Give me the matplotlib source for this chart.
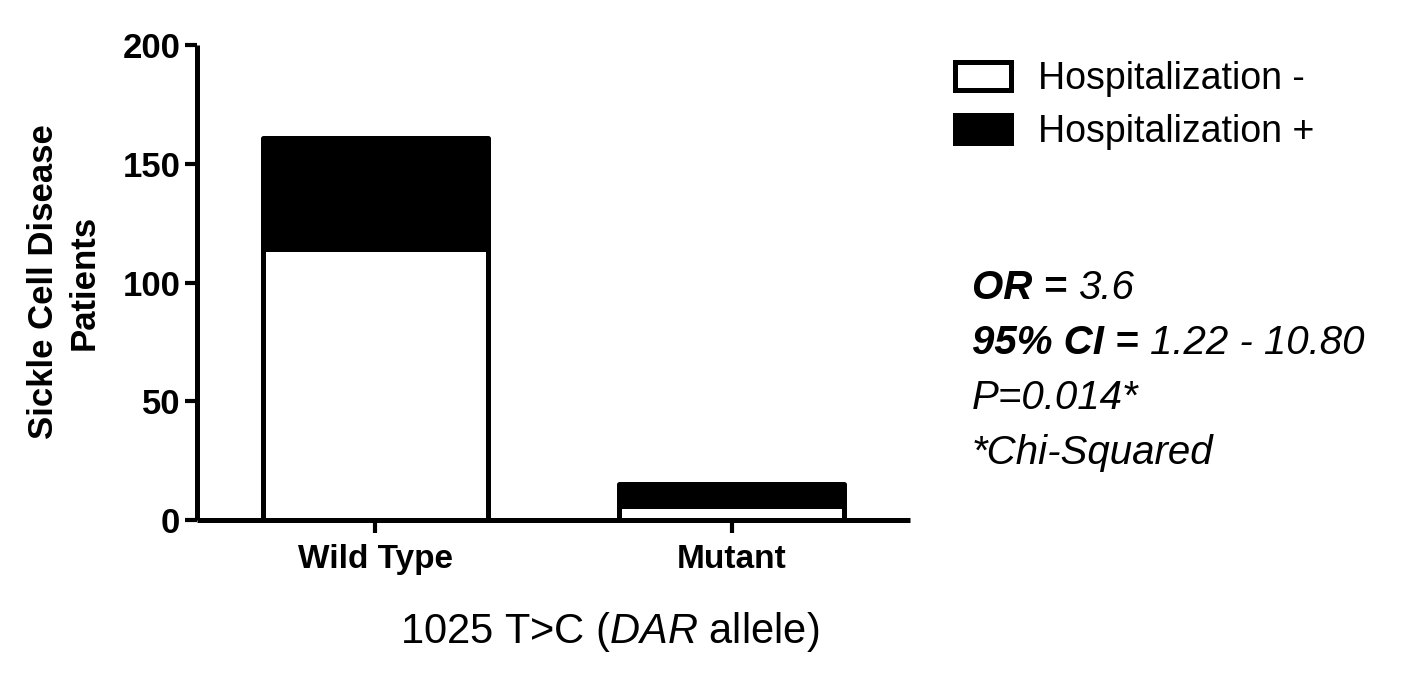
import matplotlib
matplotlib.use("Agg")
import matplotlib.pyplot as plt
import numpy as np
from matplotlib.patches import Patch

plt.rcParams["font.family"] = ["Liberation Sans", "DejaVu Sans"]
plt.rcParams["mathtext.fontset"] = "custom"
plt.rcParams["mathtext.rm"] = "Liberation Sans"
plt.rcParams["mathtext.it"] = "Liberation Sans:italic"

genotypes = ["Wild Type", "Mutant"]
hosp_neg = [114, 6]
hosp_pos = [47, 9]
series_labels = ["Hospitalization -", "Hospitalization +"]
stats_lines = [
    ("OR = ", "3.6"),
    ("95% CI = ", "1.22 - 10.80"),
    ("", "P=0.014*"),
    ("", "*Chi-Squared"),
]

fig = plt.figure(figsize=(14.17, 6.78), dpi=100)
ax = fig.add_axes([197 / 1417, 1 - 520 / 678, (910 - 197) / 1417, (520 - 45) / 678])

x = np.arange(len(genotypes))
lw = 3.6
ax.bar(x, hosp_neg, width=0.63, color="white", edgecolor="black", linewidth=lw,
       joinstyle="round", zorder=2)
ax.bar(x, hosp_pos, width=0.63, bottom=hosp_neg, color="black", edgecolor="black",
       linewidth=lw, joinstyle="round", zorder=2)

ax.set_xlim(-0.5, 1.5)
ax.set_ylim(0, 200)
ax.set_yticks([0, 50, 100, 150, 200])
ax.set_xticks(x)
ax.set_xticklabels(genotypes, fontsize=24, fontweight="bold")
for lab in ax.get_yticklabels():
    lab.set_fontsize(25)
    lab.set_fontweight("bold")
ax.tick_params(axis="y", length=9, width=3, pad=3)
ax.tick_params(axis="x", length=9, width=3, pad=8)
for s in ["top", "right"]:
    ax.spines[s].set_visible(False)
for s in ["left", "bottom"]:
    ax.spines[s].set_linewidth(3.6)
    ax.spines[s].set_capstyle("butt")

fig.text(64 / 1417, 1 - 282 / 678, "Sickle Cell Disease\nPatients", rotation=90,
         ha="center", va="center", fontsize=25, fontweight="bold", linespacing=1.3)

fig.text(610 / 1417, 1 - 632 / 678, r"1025 T>C ($\mathit{DAR}$ allele)",
         ha="center", va="center", fontsize=30)

handles = [Patch(facecolor="white", edgecolor="black", linewidth=lw),
           Patch(facecolor="black", edgecolor="black", linewidth=lw)]
fig.legend(handles, series_labels, loc="upper left",
           bbox_to_anchor=(955 / 1417, 1 - 61 / 678), frameon=False, fontsize=27,
           handlelength=1.5, handleheight=0.78, handletextpad=0.7,
           labelspacing=0.45, borderpad=0, borderaxespad=0)

y0 = 1 - 307 / 678
step = 55 / 678
for i, (b, it) in enumerate(stats_lines):
    yy = y0 - i * step
    t = fig.text(972 / 1417, yy, b if b else it, fontsize=29,
                 fontweight="bold" if b else "normal", style="italic",
                 ha="left", va="bottom")
    if b:
        ax.annotate(it, xy=(1, 0), xycoords=t, fontsize=29, style="italic",
                    ha="left", va="bottom", annotation_clip=False)

fig.savefig("out.png", dpi=100)
